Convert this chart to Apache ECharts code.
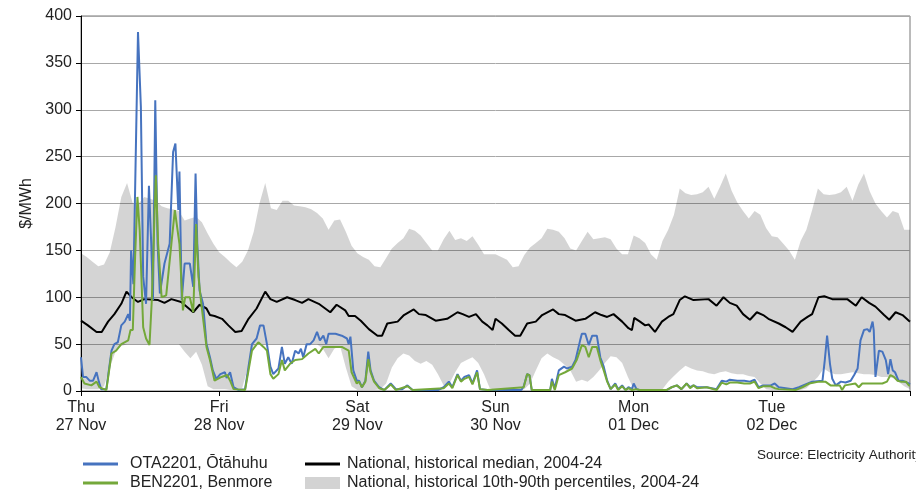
<!DOCTYPE html>
<html>
<head>
<meta charset="utf-8">
<script src="https://cdn.jsdelivr.net/npm/echarts@6/dist/echarts.min.js"></script>
<style>
html,body{margin:0;padding:0;background:#fff;}
#chart{width:916px;height:493px;}
</style>
</head>
<body>
<div id="chart"></div>
<script>
// ---- Data (hours from Thu 27 Nov 00:00) ----
const dayLabels = ['Thu\n27 Nov','Fri\n28 Nov','Sat\n29 Nov','Sun\n30 Nov','Mon\n01 Dec','Tue\n02 Dec'];
const yTicks = [0,50,100,150,200,250,300,350,400];

// historical percentiles, hourly (h = 0..144)
const p90 = [
 147,143,138,133,135,148,175,207,222,200,200,207,205,203,197,195,194,192,182,184,186,180,168,157,
 148,143,137,132,138,150,170,200,222,195,193,203,203,198,197,196,194,190,184,172,182,183,170,155,
 147,143,140,133,132,142,152,158,163,173,171,166,158,150,150,162,171,161,163,160,165,156,146,146,
 146,143,140,132,133,145,153,158,163,173,172,170,163,152,150,160,170,162,163,164,162,152,146,146,
 166,163,158,146,140,160,172,188,216,211,209,210,212,218,205,218,232,214,201,192,184,192,188,174,
 165,164,157,150,140,160,172,193,216,210,209,210,212,218,203,220,232,213,200,192,185,192,190,172,172
];
const p10 = [
 3,2,2,2,5,25,42,48,50,50,50,50,50,50,50,50,50,50,42,35,42,28,5,2,
 2,2,1,1,3,25,48,50,50,50,50,50,50,50,50,50,50,50,45,35,45,48,25,5,
 1,1,1,1,2,8,25,35,40,38,32,29,32,28,18,6,8,20,30,33,36,30,18,3,
 1,1,1,1,1,2,8,22,35,40,36,33,28,22,10,12,10,15,22,30,37,36,30,15,
 2,1,1,1,1,2,10,16,22,27,24,22,21,19,18,20,21,19,18,18,16,15,8,2,
 1,1,1,1,1,1,3,9,15,24,20,18,18,19,20,19,18,18,17,15,15,14,10,5,2
];

// historical median [hour, $/MWh]
const median = [
 [0,75],[1.2,70],[2.7,63],[3.6,63],[4.7,74],[5.8,82],[7,93],[7.9,106],[8.8,100],[9.9,95],[11,98],[13.4,97],[14.5,94],[15.7,98],[17.4,95],[19.5,84],[20.6,92],[21.8,88],[22.4,81],[23.2,80],
 [24.5,77],[25.6,70],[26.8,63],[27.9,64],[29.1,77],[30.5,88],[32,106],[32.9,98],[34,95],[35.8,100],[37.2,97],[38.4,94],[39.5,98],[41.3,93],[43.3,84],[44.4,92],[45.9,86],[46.5,80],[47.6,80],
 [48.6,75],[50,66],[51.5,59],[52.3,59],[53.2,72],[55,74],[56.1,81],[57.8,87],[58.7,82],[59.9,81],[61.6,75],[63.6,77],[65.4,84],[66.3,82],[67.4,79],[68.6,82],[69.7,74],[70.6,70],[71.5,65],[72,77],
 [73.1,72],[74.3,65],[75.4,59],[76.3,59],[77.5,72],[79,74],[80.1,81],[82,87],[83,82],[84.1,81],[85.9,75],[87.6,77],[89.3,84],[90.4,81],[91.4,79],[92.5,82],[94,74],[95.1,67],[95.7,65],[96.1,78],
 [97.1,74],[98,70],[98.6,71],[99.7,63],[100.9,74],[102,79],[102.9,82],[104,97],[104.9,101],[106.4,97],[109,98],[110.4,91],[111.6,100],[112.7,94],[113.9,91],[115,82],[116.2,76],[117.4,84],[118.5,81],[119.4,77],
 [121.2,72],[122.4,68],[123.6,63],[125,74],[126.2,79],[127,82],[128.1,100],[129.1,101],[130.5,98],[133.1,98],[134.6,91],[135.6,100],[136.9,94],[138,90],[139.5,81],[140.4,76],[141.5,84],[142.7,81],[143.8,75],[144,74]
];

// OTA2201, Ōtāhuhu [hour, $/MWh]
const ota = [
 [0,36],[0.35,15],[0.9,15],[1.5,11],[2.1,11],[2.7,20],[3.1,10],[3.5,2],[4.4,2],[5.3,43],[5.8,50],[6.4,52],[7,70],[7.6,74],[8.2,82],[8.5,75],[8.7,150],[9.1,114],[9.9,383],[10.4,303],[10.8,122],[11.3,93],[11.8,219],[12.2,157],[12.5,97],[12.9,310],[13.3,157],[13.7,104],[14.5,136],[15.4,157],[16,255],[16.4,264],[16.9,193],[17.1,234],[17.5,97],[18,136],[18.9,136],[19.5,111],[19.9,232],[20.2,157],[20.6,107],[21.2,93],[21.8,50],[22.4,36],[22.9,22],[23.5,13],
 [24.2,18],[25,20],[25.3,14],[25.9,20],[26.5,4],[27.4,1],[28.5,2],[29.7,50],[30.5,56],[31.1,70],[31.7,70],[32.3,50],[32.9,26],[33.4,18],[34.3,24],[34.9,47],[35.4,29],[36,36],[36.6,29],[37.2,43],[37.8,40],[38.2,45],[38.6,36],[39.2,50],[39.8,50],[40.4,54],[41,63],[41.5,54],[42.1,59],[42.6,50],[43,61],[44.2,61],[45.3,59],[46.2,56],[46.5,50],[46.8,58],[47.3,22],[47.9,11],
 [48.3,11],[48.8,4],[49.4,11],[49.9,42],[50.3,22],[50.9,11],[51.8,4],[52.7,1],[53.8,8],[54.7,2],[55.8,2],[56.7,6],[57.6,1],[62,1],[63,4],[63.9,10],[64.5,4],[65.4,18],[66,11],[66.6,15],[67.4,17],[68,8],[68.8,22],[69.3,2],[70.6,1],
 [72,1],[76.5,1],[76.9,5],[77.5,18],[77.9,17],[78.3,1],[81.5,1],[81.8,13],[82.3,3],[83,22],[83.9,26],[84.4,24],[85.3,26],[85.9,33],[86.7,54],[87,61],[87.6,61],[88.2,49],[88.8,59],[89.6,59],[90.2,36],[90.8,26],[91.4,11],[92,2],[92.8,8],[93.3,2],[94,6],[94.6,1],[95.1,4],[95.7,2],
 [96,8],[96.5,2],[97,1],[101.7,1],[102.6,4],[103.5,6],[104.3,2],[105.2,8],[105.8,4],[106.4,6],[107,4],[108.7,4],[110.4,2],[111.3,11],[112.1,10],[112.7,12],[114,11],[115.2,11],[116.2,10],[117,12],[117.7,4],[118.5,6],[119.8,6],
 [120.5,8],[121.2,4],[123.6,2],[124.7,4],[127,10],[128.8,11],[129.2,33],[129.6,59],[130.1,29],[130.5,13],[131.1,6],[132,10],[132.8,9],[133.7,11],[134.3,17],[134.9,24],[135.4,54],[136,65],[136.6,66],[137,63],[137.5,74],[137.7,65],[138,15],[138.6,43],[139.2,42],[139.8,33],[140.2,18],[140.6,34],[141,22],[141.4,20],[142,11],[142.7,11],[143.8,8],[144,7]
];

// BEN2201, Benmore [hour, $/MWh]
const ben = [
 [0,15],[0.6,8],[1.8,6],[2.7,10],[3.2,4],[4.4,1],[5.3,40],[6.1,43],[7,50],[8.2,54],[8.6,65],[9,65],[9.4,143],[9.8,207],[10.2,171],[10.8,68],[11.3,56],[11.9,49],[12.3,97],[13,230],[13.4,157],[14,100],[14.8,102],[15.7,157],[16.3,193],[16.6,194],[17.1,157],[17.7,86],[18.1,100],[18.9,100],[19.5,84],[20,178],[20.4,122],[20.9,93],[21.8,47],[22.4,33],[23.2,11],
 [24.4,15],[24.7,17],[25.4,17],[25.9,11],[26.5,2],[28.5,1],[29.7,43],[30.8,52],[31.7,47],[32.3,43],[32.9,18],[33.4,13],[34.3,18],[34.9,33],[35.4,22],[36.3,29],[37.2,33],[38.4,34],[39.5,40],[40.7,45],[41.3,40],[42.1,47],[43,47],[45.3,47],[46.5,43],[47,20],[47.9,8],
 [48.3,10],[48.8,4],[49.4,10],[49.9,34],[50.3,20],[50.9,10],[51.8,3],[52.7,1],[53.8,7],[54.7,1],[56.7,5],[57.6,1],[63,3],[63.9,8],[64.5,3],[65.4,17],[66,10],[66.6,13],[67.4,15],[68,7],[68.8,20],[69.3,2],[70.6,1],
 [76.9,4],[77.5,18],[77.9,17],[78.3,1],[81.5,1],[81.8,10],[82.3,1],[83,17],[84.1,20],[85.3,24],[86.1,33],[87,49],[87.6,47],[88.2,36],[88.8,47],[89.6,47],[90.2,33],[90.8,22],[91.4,10],[92,2],[92.8,7],[93.3,1],[94,5],[94.6,1],[95.1,3],[95.7,1],
 [96.5,2],[97,1],[101.7,1],[102.6,4],[103.5,6],[104.3,2],[105.2,8],[105.8,3],[106.4,6],[107,3],[108.7,4],[110.4,1],[111.3,9],[112.1,7],[112.7,9],[114,9],[115.2,8],[116.2,8],[117,10],[117.7,3],[118.5,5],[119.8,5],
 [120.5,3],[121.2,2],[124.1,1],[125.3,4],[126.5,8],[128.2,10],[129.3,10],[130.2,6],[131.8,6],[132.2,1],[132.7,6],[134.5,8],[135.1,4],[135.7,8],[139.2,8],[140,10],[140.6,17],[141.2,15],[141.8,11],[142.4,10],[143.3,10],[143.8,6],[144,6]
];

const names = {
  ota: 'OTA2201, Ōtāhuhu',
  ben: 'BEN2201, Benmore',
  med: 'National, historical median, 2004-24',
  band: 'National, historical 10th-90th percentiles, 2004-24'
};

// ---- Build ----
const bandHours = p90.map((_, i) => String(i));
const bandWidth = p90.map((v, i) => v - p10[i]);
const FONT = '"Liberation Sans", Arial, Helvetica, sans-serif';
const colors = { ota: '#4673bf', ben: '#74a83a', med: '#000000', band: '#d3d3d3' };
const legendTextL = { fontSize: 16, color: '#222', fontFamily: FONT, padding: [0, 0, 0, 7] };
const legendTextR = { fontSize: 16, color: '#222', fontFamily: FONT, padding: [0, 0, 0, 2] };

const chart = echarts.init(document.getElementById('chart'), null, { renderer: 'canvas' });
chart.setOption({
  animation: false,
  textStyle: { fontFamily: FONT },
  grid: { left: 81, right: 6, top: 16, bottom: 102, show: true, borderColor: '#777', borderWidth: 1, backgroundColor: 'transparent' },
  xAxis: [{
    type: 'value', min: 0, max: 144, interval: 24,
    axisLine: { show: true, lineStyle: { color: '#000', width: 1 } },
    axisTick: { show: true, inside: false, length: 5, lineStyle: { color: '#000' } },
    splitLine: { show: false },
    axisLabel: {
      fontSize: 16, color: '#222', lineHeight: 18, margin: 8, fontFamily: FONT,
      formatter: v => dayLabels[v / 24] || ''
    }
  }, {
    type: 'category', data: bandHours, boundaryGap: false, show: false, position: 'bottom'
  }],
  yAxis: {
    type: 'value', min: yTicks[0], max: yTicks[yTicks.length - 1], interval: 50,
    name: '$/MWh', nameLocation: 'middle', nameGap: 42, nameRotate: 90,
    nameTextStyle: { fontSize: 16, color: '#222', fontFamily: FONT },
    axisLine: { show: true, lineStyle: { color: '#000', width: 1 } },
    axisTick: { show: true, inside: false, length: 5, lineStyle: { color: '#000' } },
    splitLine: { show: true, lineStyle: { color: '#a8a8a8', width: 1 } },
    axisLabel: { fontSize: 16, color: '#222', margin: 9, fontFamily: FONT }
  },
  legend: [
    { data: [{ name: names.ota, itemStyle: { color: colors.ota } }],
      left: 83, top: 456, padding: 0, itemWidth: 35, itemHeight: 3, icon: 'rect', textStyle: legendTextL, selectedMode: false },
    { data: [{ name: names.ben, itemStyle: { color: colors.ben } }],
      left: 83, top: 475, padding: 0, itemWidth: 35, itemHeight: 3, icon: 'rect', textStyle: legendTextL, selectedMode: false },
    { data: [{ name: names.med, itemStyle: { color: colors.med } }],
      left: 305, top: 456, padding: 0, itemWidth: 35, itemHeight: 3, icon: 'rect', textStyle: legendTextR, selectedMode: false },
    { data: [{ name: names.band, itemStyle: { color: colors.band } }],
      left: 305, top: 475, padding: 0, itemWidth: 35, itemHeight: 12, icon: 'rect', textStyle: legendTextR, selectedMode: false }
  ],
  graphic: [
    { type: 'text', left: 757, top: 448, style: { text: 'Source: Electricity Authority', fontSize: 13.5, fill: '#222', fontFamily: FONT } }
  ],
  series: [
    { name: 'p10', type: 'line', xAxisIndex: 1, data: p10, stack: 'band', symbol: 'none', lineStyle: { opacity: 0 }, silent: true, z: 1 },
    { name: names.band, type: 'line', xAxisIndex: 1, data: bandWidth, stack: 'band', symbol: 'none', lineStyle: { opacity: 0 },
      itemStyle: { color: colors.band }, areaStyle: { color: 'rgba(0,0,0,0.17)', opacity: 1 }, silent: true, z: 1 },
    { name: names.med, type: 'line', data: median, symbol: 'none', lineStyle: { color: colors.med, width: 2 }, itemStyle: { color: colors.med }, z: 3 },
    { name: names.ota, type: 'line', data: ota, symbol: 'none', lineStyle: { color: colors.ota, width: 2 }, itemStyle: { color: colors.ota }, z: 4 },
    { name: names.ben, type: 'line', data: ben, symbol: 'none', lineStyle: { color: colors.ben, width: 2 }, itemStyle: { color: colors.ben }, z: 5 }
  ]
});
</script>
</body>
</html>
